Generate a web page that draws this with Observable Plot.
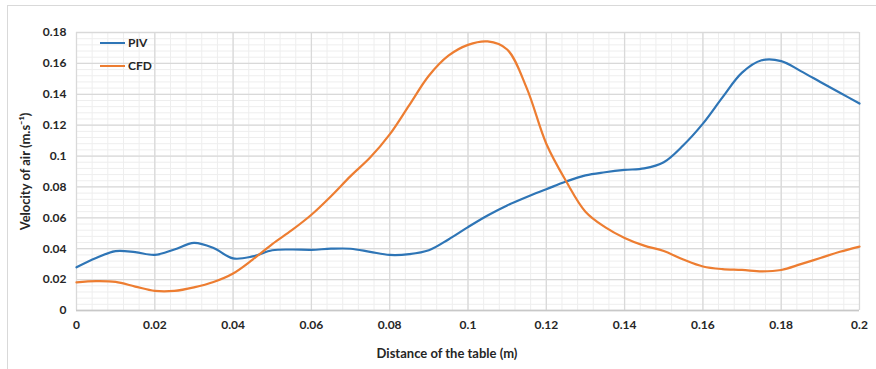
<!DOCTYPE html>
<html>
<head>
<meta charset="utf-8">
<script src="https://cdn.jsdelivr.net/npm/d3@7"></script>
<script src="https://cdn.jsdelivr.net/npm/@observablehq/plot@0.6"></script>
<style>
  html, body { margin: 0; padding: 0; background: #fff; }
  #wrap { position: relative; width: 876px; height: 369px; overflow: hidden; font-family: Lato, "Open Sans", sans-serif; }
  #border { position: absolute; left: 7px; top: 5px; width: 900px; height: 400px; border: 1px solid #d9d9d9; box-sizing: border-box; }
  #legend { position: absolute; left: 100px; top: 31px; font-weight: bold; font-size: 12px; color: #262626; }
  #legend div { display: flex; align-items: center; height: 23px; }
  #legend span.sw { display: inline-block; width: 25px; height: 2px; margin-right: 3px; }
  #chart { position: absolute; left: 0; top: 0; }
</style>
</head>
<body>
<div id="wrap">
  <div id="border"></div>
  <div id="chart"></div>
  <div id="legend"></div>
</div>
<script>
const seriesNames = ["PIV", "CFD"];
const seriesColors = ["#2E75B6", "#ED7D31"];
const distance = [0, 0.005, 0.01, 0.015, 0.02, 0.025, 0.03, 0.035, 0.04, 0.045, 0.05, 0.055, 0.06, 0.065, 0.07, 0.075, 0.08, 0.085, 0.09, 0.095, 0.1, 0.105, 0.11, 0.115, 0.12, 0.125, 0.13, 0.135, 0.14, 0.145, 0.15, 0.155, 0.16, 0.165, 0.17, 0.175, 0.18, 0.185, 0.19, 0.195, 0.2];
const piv = [0.028, 0.034, 0.0385, 0.0378, 0.036, 0.0395, 0.0438, 0.0405, 0.0337, 0.035, 0.039, 0.0395, 0.0393, 0.040, 0.040, 0.038, 0.036, 0.0365, 0.039, 0.046, 0.054, 0.0615, 0.068, 0.0735, 0.0785, 0.0835, 0.0875, 0.0895, 0.091, 0.092, 0.096, 0.107, 0.121, 0.138, 0.154, 0.162, 0.1615, 0.155, 0.148, 0.141, 0.134];
const cfd = [0.0182, 0.019, 0.0185, 0.0155, 0.0127, 0.0127, 0.015, 0.0185, 0.024, 0.033, 0.043, 0.052, 0.062, 0.074, 0.087, 0.099, 0.114, 0.133, 0.152, 0.165, 0.172, 0.1742, 0.169, 0.144, 0.108, 0.084, 0.064, 0.054, 0.047, 0.042, 0.0385, 0.033, 0.0285, 0.0268, 0.0263, 0.0253, 0.0262, 0.030, 0.034, 0.038, 0.0414];
const xTicks = [0, 0.02, 0.04, 0.06, 0.08, 0.1, 0.12, 0.14, 0.16, 0.18, 0.2];
const yTicks = [0, 0.02, 0.04, 0.06, 0.08, 0.1, 0.12, 0.14, 0.16, 0.18];
const xMinor = d3.range(0, 0.2001, 0.004);
const yMinor = d3.range(0, 0.1801, 0.004);
const xLabel = "Distance of the table (m)";
const yLabel = "Velocity of air (m.s⁻¹)";

const data = [];
distance.forEach((d, i) => {
  data.push({x: d, y: piv[i], s: seriesNames[0]});
  data.push({x: d, y: cfd[i], s: seriesNames[1]});
});

const fmt = d => String(+d.toFixed(3));

const plot = Plot.plot({
  width: 876,
  height: 369,
  marginLeft: 76,
  marginRight: 17,
  marginTop: 32,
  marginBottom: 59,
  style: {fontFamily: "Lato, 'Open Sans', sans-serif", fontSize: "12px", fontWeight: "bold", color: "#262626", background: "transparent"},
  x: {domain: [0, 0.2]},
  y: {domain: [0, 0.18]},
  color: {domain: seriesNames, range: seriesColors},
  marks: [
    Plot.ruleX(xMinor, {stroke: "#eeeeee", strokeWidth: 1}),
    Plot.ruleY(yMinor, {stroke: "#eeeeee", strokeWidth: 1}),
    Plot.ruleX(xTicks, {stroke: "#d9d9d9", strokeWidth: 1.3}),
    Plot.ruleY(yTicks, {stroke: "#d9d9d9", strokeWidth: 1.3}),
    Plot.ruleY([0], {stroke: "#c8c8c8", strokeWidth: 1.3}),
    Plot.axisX({ticks: xTicks, tickSize: 0, tickPadding: 10, tickFormat: fmt, label: null, fill: "#262626"}),
    Plot.axisY({ticks: yTicks, tickSize: 0, tickPadding: 10, tickFormat: fmt, label: null, fill: "#262626"}),
    Plot.line(data, {x: "x", y: "y", z: "s", stroke: "s", strokeWidth: 2.2, curve: "catmull-rom"}),
    Plot.text([xLabel], {frameAnchor: "bottom", textAnchor: "middle", dy: 47, dx: -21, fontSize: 13, fontWeight: "bold", fill: "#262626"}),
    Plot.text([yLabel], {frameAnchor: "left", textAnchor: "middle", rotate: -90, dx: -51, fontSize: 13, fontWeight: "bold", fill: "#262626"})
  ]
});
document.getElementById("chart").appendChild(plot);

const legend = document.getElementById("legend");
seriesNames.forEach((n, i) => {
  const row = document.createElement("div");
  const sw = document.createElement("span");
  sw.className = "sw";
  sw.style.background = seriesColors[i];
  row.appendChild(sw);
  row.appendChild(document.createTextNode(n));
  legend.appendChild(row);
});
</script>
</body>
</html>
